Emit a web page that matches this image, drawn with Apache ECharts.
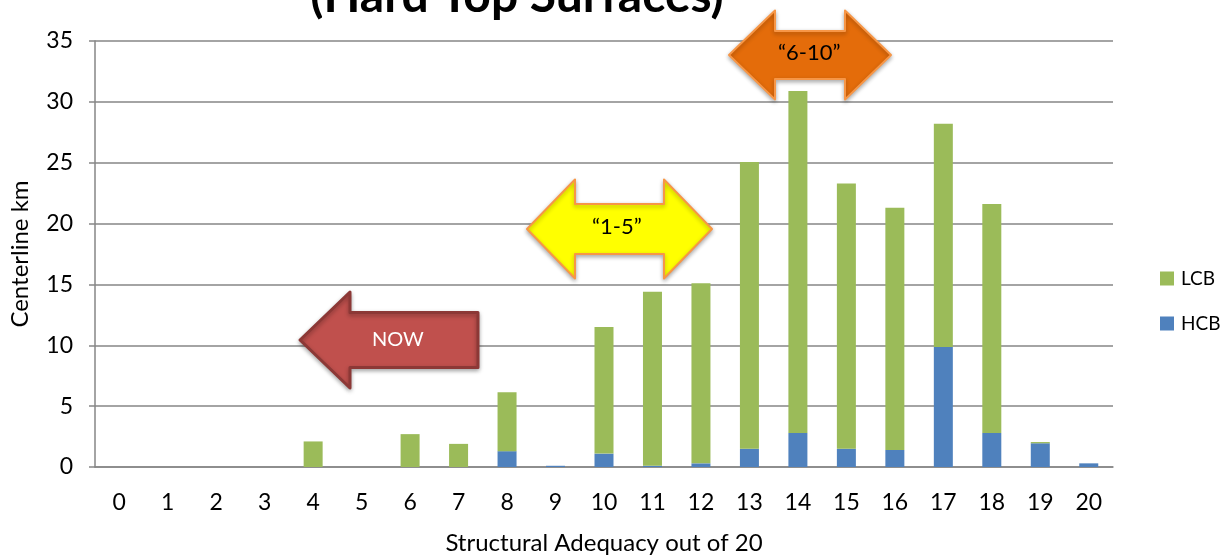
<!DOCTYPE html>
<html><head><meta charset="utf-8">
<script src="https://cdn.jsdelivr.net/npm/echarts@6/dist/echarts.min.js"></script>
<style>html,body{margin:0;padding:0;background:#fff}#c{width:1225px;height:555px}</style>
</head><body><div id="c"></div>
<script>
const categories = ['0','1','2','3','4','5','6','7','8','9','10','11','12','13','14','15','16','17','18','19','20'];
const hcb = [0,0,0,0,0,0,0,0,1.3,0.1,1.1,0.1,0.3,1.5,2.8,1.5,1.4,9.85,2.8,1.95,0.3];
const lcb = [0,0,0,0,2.1,0,2.7,1.9,4.85,0,10.4,14.3,14.8,23.55,28.1,21.8,19.9,18.35,18.8,0.1,0];
const yTicks = {min:0, max:35, interval:5};

const chart = echarts.init(document.getElementById('c'));
const font = 'Lato, Open Sans, sans-serif';
const shapeFont = 'Lato, Open Sans, sans-serif';

function leftArrow(x1,x2,yc,headW,headH,shaftH){
  return [[x1,yc],[x1+headW,yc-headH/2],[x1+headW,yc-shaftH/2],[x2,yc-shaftH/2],[x2,yc+shaftH/2],[x1+headW,yc+shaftH/2],[x1+headW,yc+headH/2]];
}
function dblArrow(x1,x2,yc,headW,headH,shaftH){
  return [[x1,yc],[x1+headW,yc-headH/2],[x1+headW,yc-shaftH/2],[x2-headW,yc-shaftH/2],[x2-headW,yc-headH/2],[x2,yc],[x2-headW,yc+headH/2],[x2-headW,yc+shaftH/2],[x1+headW,yc+shaftH/2],[x1+headW,yc+headH/2]];
}
const nz = arr => arr.map(v => v === 0 ? '-' : v);

chart.setOption({
  animation:false,
  backgroundColor:'#fff',
  title:{text:'(Hard Top Surfaces)', left:512, top:-32, textAlign:'center',
    textStyle:{fontFamily:font, fontWeight:'bold', fontSize:48, color:'#000'}},
  grid:{left:95, right:112, top:41, bottom:88, outerBoundsMode:'none', containLabel:false},
  legend:{orient:'vertical', left:1155, top:264, itemGap:26, itemWidth:14, itemHeight:14,
    data:['LCB','HCB'], icon:'rect',
    textStyle:{fontFamily:font, fontSize:19, color:'#000', padding:[0,0,0,2]}},
  xAxis:{type:'category', data:categories, name:'Structural Adequacy out of 20',
    nameLocation:'middle', nameGap:64,
    nameTextStyle:{fontFamily:font, fontSize:24, color:'#000'},
    axisLine:{lineStyle:{color:'#868686', width:1.5}},
    axisTick:{length:8, lineStyle:{color:'#868686', width:1.5}},
    axisLabel:{fontFamily:font, fontSize:23, color:'#000', margin:24}},
  yAxis:{type:'value', min:yTicks.min, max:yTicks.max, interval:yTicks.interval,
    name:'Centerline km', nameLocation:'middle', nameGap:63,
    nameTextStyle:{fontFamily:font, fontSize:24, color:'#000'},
    axisLine:{show:true, lineStyle:{color:'#868686', width:1.5}},
    axisTick:{show:true, length:6, lineStyle:{color:'#868686', width:1.5}},
    axisLabel:{fontFamily:font, fontSize:23, color:'#000', margin:22},
    splitLine:{lineStyle:{color:'#868686', width:1.5}}},
  series:[
    {name:'HCB', type:'bar', stack:'a', data:nz(hcb), barWidth:19,
      itemStyle:{color:'#4F81BD'}},
    {name:'LCB', type:'bar', stack:'a', data:nz(lcb), barWidth:19,
      itemStyle:{color:'#9BBB59'}}
  ],
  graphic:[
    {type:'polygon', z:100, shape:{points:leftArrow(300,478,340,50,96,55)},
      style:{fill:'#C0504D', stroke:'#8C3836', lineWidth:3, lineJoin:'round', shadowBlur:4, shadowColor:'rgba(0,0,0,0.3)', shadowOffsetY:2}},
    {type:'text', z:101, left:372, top:330, style:{text:'NOW', fill:'#fff', font:'20px '+shapeFont}},
    {type:'polygon', z:100, shape:{points:dblArrow(527,712,229,48,99,50)},
      style:{fill:'#FFFF00', stroke:'#F79646', lineWidth:2, lineJoin:'round', shadowBlur:4, shadowColor:'rgba(0,0,0,0.3)', shadowOffsetY:2}},
    {type:'text', z:101, left:592, top:216, style:{text:'\u201C1-5\u201D', fill:'#000', font:'22px '+shapeFont}},
    {type:'polygon', z:100, shape:{points:dblArrow(729,891,55,46,89,48)},
      style:{fill:'#E46C0A', stroke:'#F79646', lineWidth:2, lineJoin:'round', shadowBlur:4, shadowColor:'rgba(0,0,0,0.3)', shadowOffsetY:2}},
    {type:'text', z:101, left:778, top:42, style:{text:'\u201C6-10\u201D', fill:'#000', font:'22px '+shapeFont}}
  ]
});
</script></body></html>
